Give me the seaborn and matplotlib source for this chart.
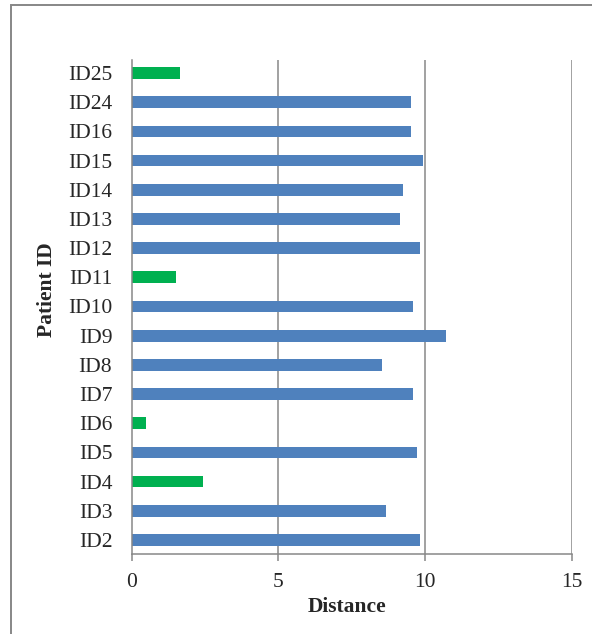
import matplotlib
matplotlib.use("Agg")
import matplotlib.pyplot as plt
import seaborn as sns
import pandas as pd
from matplotlib.patches import Rectangle

patients = ["ID25", "ID24", "ID16", "ID15", "ID14", "ID13", "ID12", "ID11", "ID10",
            "ID9", "ID8", "ID7", "ID6", "ID5", "ID4", "ID3", "ID2"]
distance = [1.65, 9.53, 9.53, 9.93, 9.24, 9.13, 9.84, 1.50, 9.59,
            10.73, 8.54, 9.59, 0.49, 9.73, 2.43, 8.68, 9.84]
group = ["low", "high", "high", "high", "high", "high", "high", "low", "high",
         "high", "high", "high", "low", "high", "low", "high", "high"]
x_ticks = [0, 5, 10, 15]

df = pd.DataFrame({"Patient ID": patients, "Distance": distance, "group": group})

sns.set_theme(style="white")
plt.rcParams["font.family"] = ["Liberation Serif", "DejaVu Serif"]

W, H = 592, 634
fig = plt.figure(figsize=(W / 100, H / 100), dpi=100)
ax = fig.add_axes([131.7 / W, 1 - 554 / H, (571.7 - 131.7) / W, (554 - 60) / H])

sns.barplot(data=df, x="Distance", y="Patient ID", hue="group", order=patients,
            palette={"high": "#4F81BD", "low": "#00B050"}, dodge=False,
            width=0.40, legend=False, ax=ax, saturation=1, edgecolor="none")

gray = "#878787"
fs = 15.5
ax.set_xlim(0, 15)
ax.set_ylim(len(patients) - 1 + 0.48, -0.445)
ax.set_xticks(x_ticks)
ax.set_xticklabels([str(t) for t in x_ticks], fontsize=fs)
ax.tick_params(axis="y", labelsize=fs, length=0, pad=14)
ax.tick_params(axis="x", length=5, width=1.1, color=gray, pad=9, direction="out", bottom=True)
for t in x_ticks[1:]:
    ax.axvline(t, color=gray, lw=1.1, zorder=0)
for s in ["top", "right"]:
    ax.spines[s].set_visible(False)
for s in ["left", "bottom"]:
    ax.spines[s].set_color(gray)
    ax.spines[s].set_linewidth(1.1)

ax.set_xlabel("")
ax.set_ylabel("")
fig.text(347 / W, 1 - 607 / H, "Distance", fontsize=fs, fontweight="bold",
         ha="center", va="center")
fig.text(46.5 / W, 1 - 290 / H, "Patient ID", fontsize=fs, fontweight="bold",
         ha="center", va="center", rotation=90)

fig.patches.append(Rectangle((11.2 / W, -0.1), 1.2, 1 - 5.2 / H + 0.1,
                             transform=fig.transFigure, fill=False,
                             edgecolor=gray, lw=1.4))

fig.savefig("out.png", dpi=100)
